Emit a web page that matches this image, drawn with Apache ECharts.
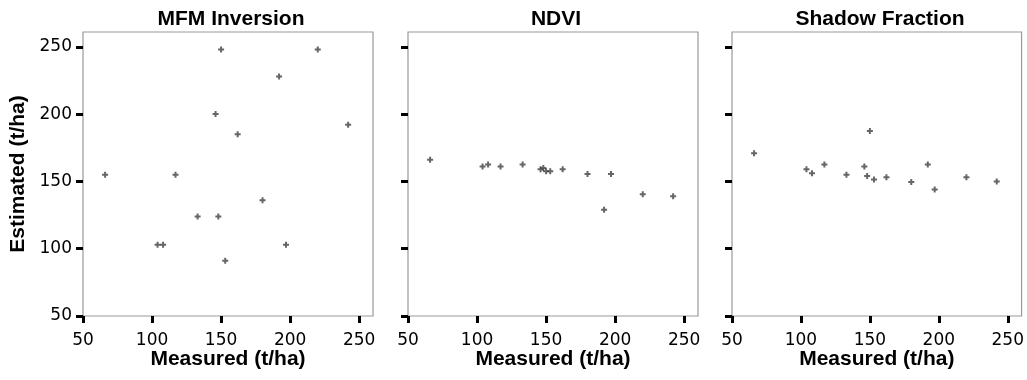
<!DOCTYPE html>
<html>
<head>
<meta charset="utf-8">
<script src="https://cdn.jsdelivr.net/npm/echarts@6/dist/echarts.min.js"></script>
<style>
  html, body { margin: 0; padding: 0; background: #fff; }
  #chart { width: 1027px; height: 380px; }
</style>
</head>
<body>
<div id="chart"></div>
<script>
// ---- data ----
const panelTitles = ['MFM Inversion', 'NDVI', 'Shadow Fraction'];
const measured = [66, 104, 108, 117, 133, 146, 148, 150, 153, 162, 180, 192, 197, 220, 242];
const mfmEstimated = [155, 103, 103, 155, 124, 200, 124, 248, 91, 185, 136, 228, 103, 248, 192];
const ndviEstimated = [166, 161, 162.5, 161, 162.5, 159, 160, 157.5, 157.5, 159, 155.5, 129, 155.5, 140.5, 139];
const shadowEstimated = [171, 159, 156, 162.5, 155, 161, 154, 187.5, 151.5, 153, 149.5, 162.5, 144, 153, 150];
const xTicks = [50, 100, 150, 200, 250];
const yTicks = [50, 100, 150, 200, 250];
const xName = 'Measured (t/ha)';
const yName = 'Estimated (t/ha)';

const estimates = [mfmEstimated, ndviEstimated, shadowEstimated];

const gridLefts = [83, 408, 732];
const gridWidth = 290;
const gridTop = 32;
const gridHeight = 284;

const tickFont = { fontFamily: 'DejaVu Sans, sans-serif', fontSize: 17, color: '#000' };
const nameFont = { fontFamily: 'Liberation Sans, Arial, sans-serif', fontSize: 21, fontWeight: 'bold', color: '#000' };

const grids = gridLefts.map(l => ({
  left: l, top: gridTop, width: gridWidth, height: gridHeight,
  show: true, borderColor: '#999', borderWidth: 1.2, backgroundColor: '#fff'
}));

const xAxes = gridLefts.map((_, i) => ({
  type: 'value', gridIndex: i, min: 50, max: 260,
  axisLine: { show: false },
  splitLine: { show: false },
  axisTick: { show: true, length: 7, inside: false, customValues: xTicks, lineStyle: { color: '#000', width: 3 } },
  axisLabel: Object.assign({ show: true, margin: 16, customValues: xTicks }, tickFont),
  name: xName, nameLocation: 'middle', nameGap: 33, nameMoveOverlap: false,
  nameTextStyle: nameFont
}));

const yAxes = gridLefts.map((_, i) => ({
  type: 'value', gridIndex: i, min: 50, max: 261,
  axisLine: { show: false },
  splitLine: { show: false },
  axisTick: { show: true, length: 7, inside: false, customValues: yTicks, lineStyle: { color: '#000', width: 3 } },
  axisLabel: Object.assign({ show: i === 0, margin: 11, customValues: yTicks }, tickFont),
  name: i === 0 ? yName : '', nameLocation: 'middle', nameGap: 54,
  nameTextStyle: nameFont
}));

const plusPath = 'path://M2,0H4V2H6V4H4V6H2V4H0V2H2Z';

const series = estimates.map((est, i) => ({
  type: 'scatter', xAxisIndex: i, yAxisIndex: i,
  symbol: plusPath, symbolSize: 6,
  itemStyle: { color: '#404040' },
  data: measured.map((m, k) => [m, est[k]]),
  animation: false
}));

const titles = panelTitles.map((t, i) => ({
  text: t, left: gridLefts[i] + gridWidth / 2 - 2, top: 4, textAlign: 'center',
  textStyle: { fontFamily: 'Liberation Sans, Arial, sans-serif', fontSize: 21, fontWeight: 'bold', color: '#000' }
}));

const chart = echarts.init(document.getElementById('chart'), null, { renderer: 'canvas' });
chart.setOption({
  backgroundColor: '#fff',
  animation: false,
  title: titles,
  grid: grids,
  xAxis: xAxes,
  yAxis: yAxes,
  series: series
});
</script>
</body>
</html>
